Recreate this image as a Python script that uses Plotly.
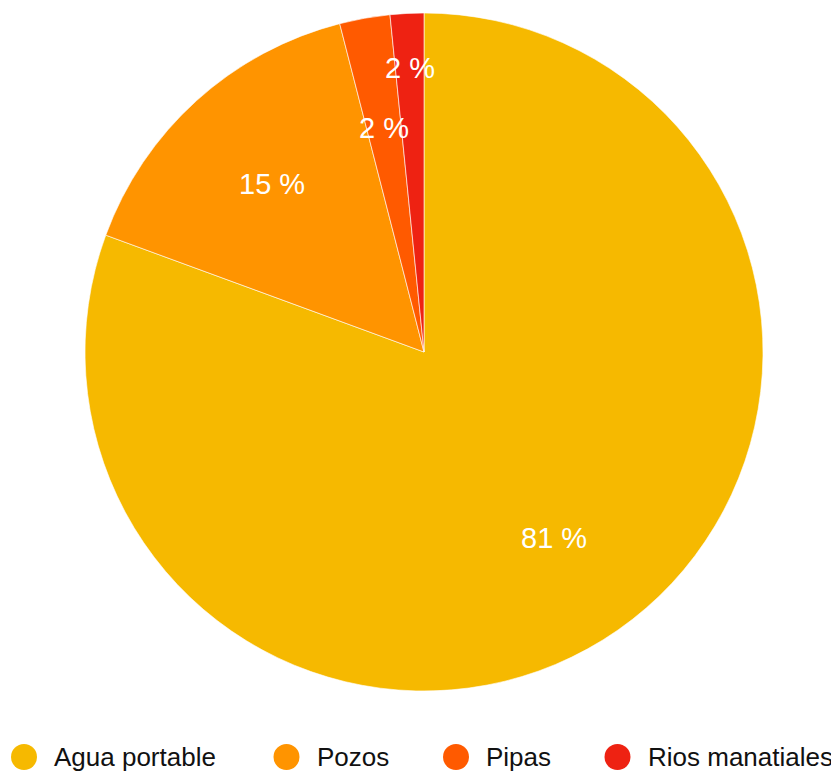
import math
import plotly.graph_objects as go

categories = ["Agua portable", "Pozos", "Pipas", "Rios manatiales"]
values = [80.6, 15.4, 2.4, 1.6]
colors = ["#F6B900", "#FF9400", "#FF5A00", "#EE2212"]
label_radius = [0.67, 0.67, 0.67, 0.84]

# page body has an 8px margin; figure sized so it fills the window
OFF = 8
W, H = 839 - OFF, 771 - OFF
ML, MR, MT, MB = 1, 0, 5, 80
PW, PH = W - ML - MR, H - MT - MB

total = sum(values)
texts = [f"{round(v / total * 100)} %" for v in values]

fig = go.Figure()
fig.add_trace(go.Pie(
    labels=categories, values=values, sort=False, direction="clockwise",
    rotation=0, textinfo="none", hoverinfo="label+percent",
    marker=dict(colors=colors, line=dict(color="rgba(255,255,255,0.6)", width=1)),
    showlegend=False,
))

R = min(PW, PH) / 2
cx, cy = 0.5, 0.5
annotations = []
cum = 0.0
for v, t, rf in zip(values, texts, label_radius):
    mid = (cum + v / 2) / total
    cum += v
    ang = 2 * math.pi * mid
    dx = rf * R * math.sin(ang)
    dy = rf * R * math.cos(ang)
    annotations.append(dict(
        x=cx + dx / PW, y=cy + dy / PH, xref="paper", yref="paper",
        text=t, showarrow=False, xanchor="center", yanchor="middle",
        font=dict(family="Liberation Sans, Arial, sans-serif", size=29, color="white"),
    ))

# manual legend (circle markers), window pixel positions
legend_px = [24, 286.5, 456, 617.5]
legend_y_px = 757
shapes = []
for c, lx, col in zip(categories, legend_px, colors):
    fx = lx - OFF
    fy = legend_y_px - OFF
    xp = (fx - ML) / PW
    yp = (H - MB - fy) / PH
    shapes.append(dict(
        type="circle", xref="paper", yref="paper", xsizemode="pixel", ysizemode="pixel",
        xanchor=xp, yanchor=yp, x0=-13, x1=13, y0=-13, y1=13,
        fillcolor=col, line=dict(width=0),
    ))
    annotations.append(dict(
        x=(fx + 28 - ML) / PW, y=yp, xref="paper", yref="paper",
        text=c, showarrow=False, xanchor="left", yanchor="middle",
        font=dict(family="Liberation Sans, Arial, sans-serif", size=26, color="#111111"),
    ))

fig.update_layout(
    width=W, height=H,
    margin=dict(l=ML, r=MR, t=MT, b=MB, autoexpand=False),
    paper_bgcolor="white", plot_bgcolor="white",
    annotations=annotations, shapes=shapes,
)

fig.write_html("out.html")
